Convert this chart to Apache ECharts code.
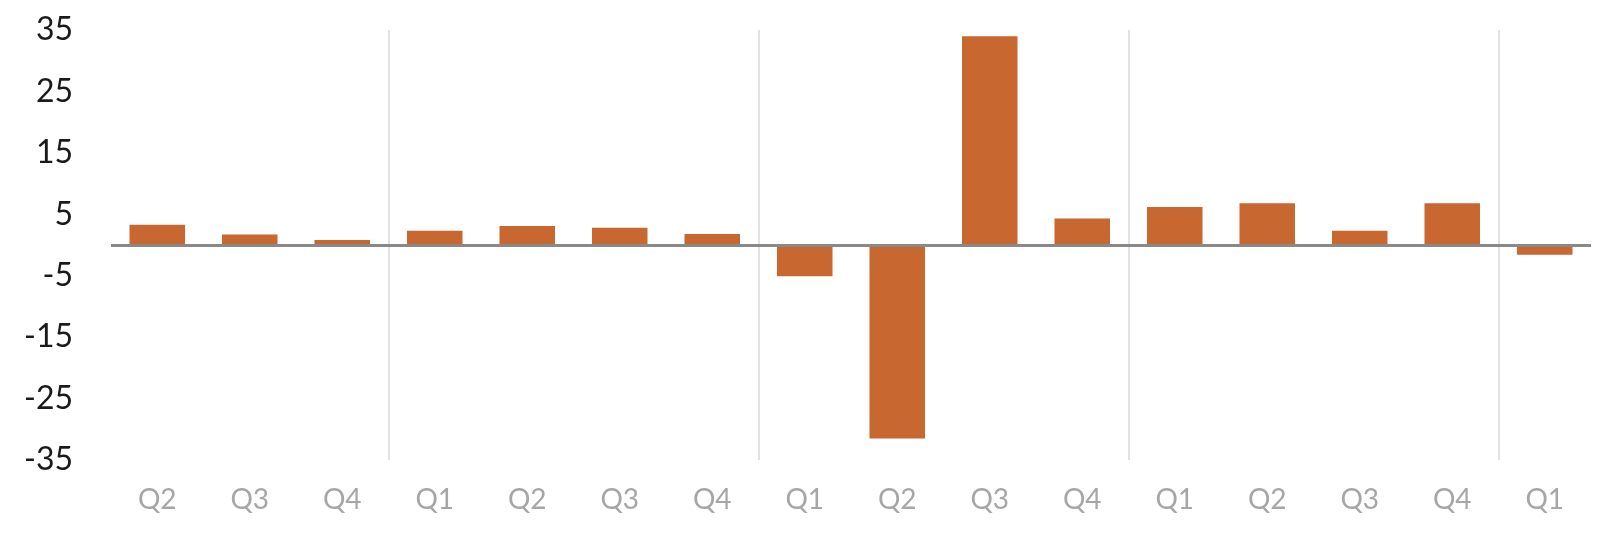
<!DOCTYPE html>
<html>
<head>
<meta charset="utf-8">
<script src="https://cdn.jsdelivr.net/npm/echarts@6/dist/echarts.min.js"></script>
<style>
html,body{margin:0;padding:0;background:#fff;}
#chart{width:1608px;height:534px;}
</style>
</head>
<body>
<div id="chart"></div>
<script>
const quarters = ['Q2','Q3','Q4','Q1','Q2','Q3','Q4','Q1','Q2','Q3','Q4','Q1','Q2','Q3','Q4','Q1'];
const values = [3.3, 1.7, 0.8, 2.3, 3.1, 2.8, 1.8, -5.1, -31.5, 34.0, 4.3, 6.2, 6.8, 2.3, 6.8, -1.6];
const yTickLabels = [-35, -25, -15, -5, 5, 15, 25, 35];
// index of the first quarter of each new year (separator drawn before it)
const yearStarts = [3, 7, 11, 15];

const chart = echarts.init(document.getElementById('chart'), null, {renderer: 'canvas'});
chart.setOption({
  animation: false,
  grid: {left: 111, right: 17, top: 30, bottom: 74},
  xAxis: [{
    type: 'category',
    data: quarters.map((q, i) => ({value: q + '_' + i})),
    boundaryGap: true,
    axisLine: {show: false, onZero: false},
    axisTick: {show: false},
    axisLabel: {
      formatter: v => v.split('_')[0],
      color: '#a6a6a6', fontFamily: 'Lato', fontSize: 28, margin: 26, interval: 0
    },
    splitLine: {show: false}
  }, {
    // boundary axis: one slot per category edge, used only for year separators
    type: 'category',
    position: 'top',
    data: Array.from({length: quarters.length + 1}, (_, i) => 'b' + i),
    boundaryGap: false,
    axisLine: {show: false},
    axisTick: {show: false},
    axisLabel: {show: false},
    splitLine: {
      show: true,
      interval: (i) => yearStarts.indexOf(i) >= 0,
      lineStyle: {color: '#d9d9d9', width: 1.5}
    }
  }],
  yAxis: {
    type: 'value',
    min: -35, max: 35, interval: 5,
    axisLine: {show: false},
    axisTick: {show: false},
    splitLine: {show: false},
    axisLabel: {
      color: '#1a1a1a', fontFamily: 'Lato', fontSize: 32, margin: 38,
      formatter: v => yTickLabels.indexOf(v) >= 0 ? String(v) : ''
    }
  },
  series: [{
    type: 'bar',
    xAxisIndex: 0,
    data: values,
    barWidth: '60%',
    itemStyle: {color: '#c8672f'},
    markLine: {
      silent: true,
      symbol: 'none',
      label: {show: false},
      lineStyle: {color: '#898989', width: 3, type: 'solid'},
      data: [{yAxis: 0}]
    }
  }]
});
</script>
</body>
</html>
